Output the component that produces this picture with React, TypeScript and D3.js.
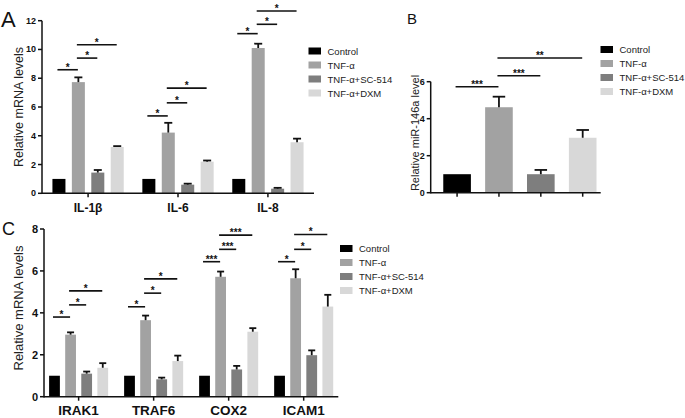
import React from "react";
import * as d3 from "d3";

const seriesNames = ["Control", "TNF-α", "TNF-α+SC-514", "TNF-α+DXM"];
const seriesColors = ["#000000", "#a2a2a2", "#7e7e7e", "#d8d8d8"];

// Panel A
const groupsA = ["IL-1β", "IL-6", "IL-8"];
const meanA = [
  [1, 7.73, 1.44, 3.22],
  [1, 4.22, 0.6, 2.2],
  [1, 10.1, 0.32, 3.55],
];
const errA = [
  [0, 0.33, 0.18, 0.06],
  [0, 0.68, 0.07, 0.08],
  [0, 0.3, 0.06, 0.25],
];
const sigA = [
  [[0, 1, 8.59, "*"], [1, 2, 9.4, "*"], [1, 3, 10.33, "*"]],
  [[0, 1, 5.38, "*"], [1, 2, 6.29, "*"], [1, 3, 7.31, "*"]],
  [[0, 1, 11.1, "*"], [1, 2, 11.75, "*"], [1, 3, 12.67, "*"]],
];
const ticksA = [0, 2, 4, 6, 8, 10, 12];

// Panel B
const groupsB = ["miR-146a"];
const meanB = [[1, 4.62, 1.0, 2.97]];
const errB = [[0, 0.57, 0.23, 0.42]];
const sigB = [[[0, 1, 5.73, "***"], [1, 2, 6.32, "***"], [1, 3, 7.28, "**"]]];
const ticksB = [0, 2, 4, 6];

// Panel C
const groupsC = ["IRAK1", "TRAF6", "COX2", "ICAM1"];
const meanC = [
  [1, 2.96, 1.1, 1.38],
  [1, 3.65, 0.83, 1.7],
  [1, 5.72, 1.3, 3.1],
  [1, 5.65, 1.98, 4.3],
];
const errC = [
  [0, 0.11, 0.1, 0.22],
  [0, 0.22, 0.08, 0.26],
  [0, 0.25, 0.17, 0.17],
  [0, 0.43, 0.23, 0.56],
];
const sigC = [
  [[0, 1, 3.8, "*"], [1, 2, 4.38, "*"], [1, 3, 5.05, "*"]],
  [[0, 1, 4.29, "*"], [1, 2, 4.94, "*"], [1, 3, 5.62, "*"]],
  [[0, 1, 6.44, "***"], [1, 2, 7.03, "***"], [1, 3, 7.71, "***"]],
  [[0, 1, 6.44, "*"], [1, 2, 7.03, "*"], [1, 3, 7.74, "*"]],
];
const ticksC = [0, 2, 4, 6, 8];

const FONT = "'Liberation Sans', Arial, sans-serif";

type PanelProps = {
  groups: string[];
  means: number[][];
  errs: number[][];
  sigs: any[][];
  ticks: number[];
  xRange: [number, number];
  yRange: [number, number];
  yDomain: [number, number];
  padIn: number;
  padOut: number;
  barPadIn: number;
  barPadOut: number;
  barAlign: number;
  tickFont: number;
  groupFont: number;
  groupLabelY: number;
  tickPerBar: boolean;
  capW: number;
  yLabel: string;
  yLabelX: number;
  yLabelY: number;
  yLabelFont: number;
  legendX: number;
  legendY: number;
  legendFont: number;
  letter: string;
  letterX: number;
  letterY: number;
  letterFont: number;
  starFont: number;
};

function Panel(p: PanelProps) {
  const x0 = d3
    .scaleBand<string>()
    .domain(p.groups)
    .range(p.xRange)
    .paddingInner(p.padIn)
    .paddingOuter(p.padOut);
  const x1 = d3
    .scaleBand<number>()
    .domain(d3.range(seriesNames.length))
    .range([0, x0.bandwidth()])
    .paddingInner(p.barPadIn)
    .paddingOuter(p.barPadOut)
    .align(p.barAlign);
  const y = d3.scaleLinear().domain(p.yDomain).range(p.yRange);
  const axX = p.xRange[0];
  const y0 = y(0);
  const bw = x1.bandwidth();
  const cx = (g: string, i: number) => (x0(g) as number) + (x1(i) as number) + bw / 2;

  return (
    <g fontFamily={FONT}>
      <text x={p.letterX} y={p.letterY} fontSize={p.letterFont} fill="#111">
        {p.letter}
      </text>
      <text
        transform={`translate(${p.yLabelX},${p.yLabelY}) rotate(-90)`}
        textAnchor="middle"
        dominantBaseline="central"
        fontSize={p.yLabelFont}
        fill="#222"
      >
        {p.yLabel}
      </text>
      {/* bars */}
      {p.groups.map((g, gi) =>
        p.means[gi].map((v, i) => (
          <rect
            key={g + i}
            x={(x0(g) as number) + (x1(i) as number)}
            y={y(v)}
            width={bw}
            height={y0 - y(v)}
            fill={seriesColors[i]}
          />
        ))
      )}
      {/* error bars */}
      {p.groups.map((g, gi) =>
        p.means[gi].map((v, i) =>
          p.errs[gi][i] > 0 ? (
            <g key={"e" + g + i} stroke="#111" strokeWidth={1.8}>
              <line x1={cx(g, i)} x2={cx(g, i)} y1={y(v)} y2={y(v + p.errs[gi][i])} />
              <line
                x1={cx(g, i) - p.capW / 2}
                x2={cx(g, i) + p.capW / 2}
                y1={y(v + p.errs[gi][i])}
                y2={y(v + p.errs[gi][i])}
              />
            </g>
          ) : null
        )
      )}
      {/* axes */}
      <line x1={axX} x2={axX} y1={y0 + 0.75} y2={y(p.ticks[p.ticks.length - 1])} stroke="#111" strokeWidth={1.5} />
      <line x1={axX} x2={p.xRange[1]} y1={y0} y2={y0} stroke="#111" strokeWidth={1.5} />
      {p.ticks.map((t) => (
        <g key={"t" + t}>
          <line x1={axX - 4} x2={axX} y1={y(t)} y2={y(t)} stroke="#111" strokeWidth={1.5} />
          <text
            x={axX - 6}
            y={y(t)}
            textAnchor="end"
            dominantBaseline="central"
            fontSize={p.tickFont}
            fontWeight="bold"
            fill="#111"
          >
            {t}
          </text>
        </g>
      ))}
      {p.tickPerBar
        ? p.groups.map((g) =>
            seriesNames.map((_, i) => (
              <line key={"xt" + i} x1={cx(g, i)} x2={cx(g, i)} y1={y0} y2={y0 + 4} stroke="#111" strokeWidth={1.5} />
            ))
          )
        : p.groups.map((g) => {
            const c = (x0(g) as number) + x0.bandwidth() / 2;
            return (
              <g key={"xg" + g}>
                <line x1={c} x2={c} y1={y0} y2={y0 + 4} stroke="#111" strokeWidth={1.5} />
                <text
                  x={c}
                  y={p.groupLabelY}
                  textAnchor="middle"
                  dominantBaseline="central"
                  fontSize={p.groupFont}
                  fontWeight="bold"
                  fill="#111"
                >
                  {g}
                </text>
              </g>
            );
          })}
      {/* significance */}
      {p.groups.map((g, gi) =>
        p.sigs[gi].map((s: any, k: number) => {
          const xa = cx(g, s[0]) - 1.5;
          const xb = cx(g, s[1]) - 0.5;
          const yy = y(s[2]);
          return (
            <g key={"s" + g + k}>
              <line x1={xa} x2={xb} y1={yy} y2={yy} stroke="#111" strokeWidth={1.6} />
              <text
                x={(xa + xb) / 2}
                y={yy + p.starFont * 0.1}
                textAnchor="middle"
                fontSize={p.starFont}
                fontWeight="bold"
                fill="#111"
              >
                {s[3]}
              </text>
            </g>
          );
        })
      )}
      {/* legend */}
      {seriesNames.map((n, i) => (
        <g key={"l" + i} transform={`translate(${p.legendX},${p.legendY + i * 14})`}>
          <rect x={0} y={-3.5} width={12.5} height={7} fill={seriesColors[i]} />
          <text x={19} y={0} dominantBaseline="central" fontSize={p.legendFont} fill="#222">
            {n}
          </text>
        </g>
      ))}
    </g>
  );
}

export default function App() {
  return (
    <svg
      width={685}
      height={418}
      style={{ position: "absolute", left: 0, top: 0, background: "#fff" }}
    >
      <rect width={685} height={418} fill="#fff" />
      <Panel
        groups={groupsA}
        means={meanA}
        errs={errA}
        sigs={sigA}
        ticks={ticksA}
        xRange={[42, 314]}
        yRange={[193.3, 20.7]}
        yDomain={[0, 12]}
        padIn={0.207}
        padOut={0.116}
        barPadIn={0.33}
        barPadOut={0}
        barAlign={0.5}
        tickFont={9}
        groupFont={12}
        groupLabelY={208}
        tickPerBar={false}
        capW={8}
        yLabel="Relative mRNA levels"
        yLabelX={19}
        yLabelY={107}
        yLabelFont={12.5}
        legendX={308.5}
        legendY={51}
        legendFont={9.5}
        letter="A"
        letterX={1}
        letterY={27}
        letterFont={22}
        starFont={10}
      />
      <Panel
        groups={groupsB}
        means={meanB}
        errs={errB}
        sigs={sigB}
        ticks={ticksB}
        xRange={[430.7, 600.7]}
        yRange={[192.7, 81.7]}
        yDomain={[0, 6]}
        padIn={0}
        padOut={0}
        barPadIn={0.34}
        barPadOut={0.2}
        barAlign={0.75}
        tickFont={9}
        groupFont={12}
        groupLabelY={208}
        tickPerBar={true}
        capW={12.5}
        yLabel="Relative miR-146a level"
        yLabelX={415}
        yLabelY={133}
        yLabelFont={11}
        legendX={600.5}
        legendY={49.5}
        legendFont={9.5}
        letter="B"
        letterX={407}
        letterY={24}
        letterFont={15}
        starFont={10}
      />
      <Panel
        groups={groupsC}
        means={meanC}
        errs={errC}
        sigs={sigC}
        ticks={ticksC}
        xRange={[44, 338.3]}
        yRange={[396.7, 229]}
        yDomain={[0, 8]}
        padIn={0.213}
        padOut={0.068}
        barPadIn={0.33}
        barPadOut={0}
        barAlign={0.5}
        tickFont={11}
        groupFont={13.5}
        groupLabelY={410.5}
        tickPerBar={false}
        capW={7}
        yLabel="Relative mRNA levels"
        yLabelX={18}
        yLabelY={308}
        yLabelFont={13}
        legendX={340}
        legendY={248.5}
        legendFont={9.5}
        letter="C"
        letterX={2}
        letterY={235}
        letterFont={18}
        starFont={10}
      />
    </svg>
  );
}
